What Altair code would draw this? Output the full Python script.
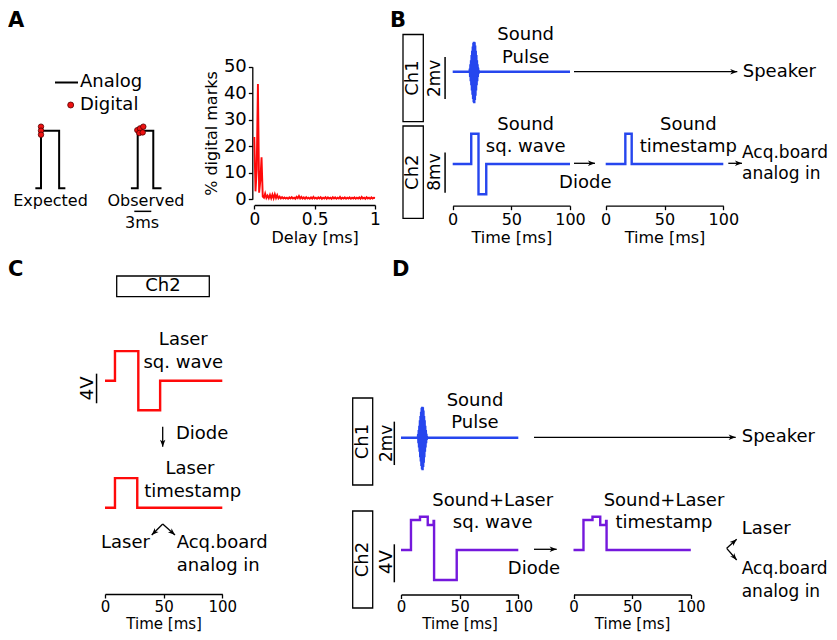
import math
import altair as alt
import pandas as pd

W, H = 821, 624          # drawing area (page minus 8px margin)
M = 8
FONT = "DejaVu Sans"
BLUE = "#2646ee"
RED = "#ff0a0a"
PURPLE = "#7418dc"

# ------------------------------------------------------------------ data
# A: histogram of delays between analog and digital marks (% of marks)
hist_pct = [
    23.5, 3.0, 11.0, 43.5, 2.5, 7.0, 15.8, 1.0, 0.6, 2.2,
    0.5, 1.4, 0.4, 1.7, 0.4, 1.8, 0.4, 1.9, 0.5, 1.6,
    0.4, 1.0, 0.3, 0.8, 0.3, 0.7, 0.3, 0.6, 0.2, 0.7,
    0.3, 0.8, 0.3, 0.6, 0.2, 0.9, 0.4, 1.2, 0.3, 0.9,
    0.3, 0.7, 0.2, 0.8, 0.3, 0.6, 0.2, 0.7, 0.3, 0.9,
    0.3, 0.6, 0.2, 0.7, 0.3, 0.8, 0.2, 0.6, 0.3, 0.8,
    0.2, 0.7, 0.3, 0.6, 0.2, 0.8, 0.3, 0.7, 0.2, 0.6,
    0.3, 0.9, 0.2, 0.6, 0.3, 0.7, 0.2, 0.6, 0.3, 0.7,
    0.2, 0.6, 0.3, 0.7, 0.2, 0.6, 0.3, 0.7, 0.2, 0.9,
    0.3, 0.6, 0.2, 0.8, 0.3, 0.6, 0.2, 0.7, 0.3, 0.6,
    0.5,
]
hist_delay = [round(0.01 * i, 2) for i in range(len(hist_pct))]
hist_y_ticks = [0, 10, 20, 30, 40, 50]
hist_x_ticks = [0, 0.5, 1]

# A: schematic pulses (time in ms, normalised level)
exp_t = [-1.0, 0.0, 0.0, 3.2, 3.2, 4.3]
exp_v = [0, 0, 1, 1, 0, 0]
obs_t = [-1.2, 0.0, 0.0, 2.75, 2.75, 4.2]
obs_v = [0, 0, 1, 1, 0, 0]
exp_dig_t = [0.0, 0.0, 0.0]
exp_dig_v = [1.07, 1.0, 0.93]
obs_dig_t = [-0.07, 0.41, 0.99, 0.28, 0.88]
obs_dig_v = [1.01, 1.04, 1.07, 0.96, 0.97]
scalebar_ms = 3

# Sound pulse burst (mV), sampled every 0.25 ms from 14.4 ms
burst_v = [0, 0.15, -0.25, 0.35, -0.45, 0.55, -0.65, 0.8, -0.9, 1.0, -1.1,
           1.2, -1.3, 1.38, -1.45, 1.43, -1.5, 1.4, -1.35, 1.25, -1.15, 1.0,
           -0.9, 0.8, -0.65, 0.55, -0.45, 0.35, -0.25, 0.18, -0.1, 0.05, 0]
burst_t = [round(14.4 + 0.25 * i, 2) for i in range(len(burst_v))]
pulse_t = [0] + burst_t + [100]
pulse_v = [0] + burst_v + [0]

# B: sound square wave and sound timestamp (mV)
b_sq_t = [0, 15.8, 15.8, 22.0, 22.0, 28.6, 28.6, 100]
b_sq_v = [0, 0, 6, 6, -6, -6, 0, 0]
b_ts_t = [0, 16.7, 16.7, 22.1, 22.1, 100]
b_ts_v = [0, 0, 6, 6, 0, 0]

# C: laser square wave and laser timestamp (V)
c_sq_t = [0, 8.5, 8.5, 28.4, 28.4, 47.0, 47.0, 100]
c_sq_v = [0, 0, 4, 4, -4, -4, 0, 0]
c_ts_t = [0, 8.5, 8.5, 27.5, 27.5, 100]
c_ts_v = [0, 0, 4, 4, 0, 0]

# D: sound+laser square wave and timestamp (V)
d_sq_t = [0, 8.5, 8.5, 16.2, 16.2, 22.8, 22.8, 27.8, 27.8, 28.2, 28.2, 47.5, 47.5, 100]
d_sq_v = [0, 0, 3.16, 3.16, 3.5, 3.5, 2.63, 2.63, 3.05, 3.05, -3.16, -3.16, 0, 0]
d_ts_t = [0, 8.5, 8.5, 16.2, 16.2, 22.8, 22.8, 27.8, 27.8, 28.2, 28.2, 100]
d_ts_v = [0, 0, 3.16, 3.16, 3.5, 3.5, 2.63, 2.63, 3.05, 3.05, 0, 0]

time_ticks = [0, 50, 100]

# ------------------------------------------------------------------ layout
def P(p):
    return p - M


def sc(d0, d1, p0, p1):
    return alt.Scale(domain=[d0, d1], range=[P(p0), P(p1)], nice=False, zero=False)


# frame: (x data0, x data1, x page0, x page1), (y data0, y data1, y page0, y page1)
FR = {
    "AE": ((0, 3, 41, 58), (0, 1, 188.3, 130.7)),
    "AO": ((0, 3, 137.7, 154.7), (0, 1, 188.3, 130.7)),
    "AH": ((0, 1, 254.3, 375), (0, 50, 199.3, 66.7)),
    "B1": ((0, 100, 452.7, 570), (0, 1, 71.7, 50.7)),
    "B2": ((0, 100, 452.7, 570), (0, 1, 164, 158.95)),
    "B3": ((0, 100, 605.7, 723.3), (0, 1, 164, 158.95)),
    "C1": ((0, 100, 105, 222.3), (0, 1, 380.7, 373.3)),
    "C2": ((0, 100, 105, 222.3), (0, 1, 507.7, 500.3)),
    "D1": ((0, 100, 401, 518.3), (0, 1, 437.7, 416.0)),
    "D2": ((0, 100, 401, 518.3), (0, 1, 550, 540.5)),
    "D3": ((0, 100, 573.5, 690.8), (0, 1, 550, 540.5)),
    "CV": ((M, M + W, M, M + W), (M, M + H, M, M + H)),
}


def scales(name):
    xf, yf = FR[name]
    return sc(*xf), sc(*yf)


AX = dict(grid=False, tickSize=4, tickWidth=1.3, domainWidth=1.3, domainColor="black",
          tickColor="black", labelColor="black", titleColor="black", labelFont=FONT,
          titleFont=FONT, labelFontSize=16, titleFontSize=16, titleFontWeight="normal",
          labelFlush=False, labelOverlap=False, labelBound=False, labelPadding=2,
          titlePadding=2)


def bottom_axis(page_y, values, title, fmt="d", **kw):
    opts = {**AX, **kw}
    return alt.Axis(orient="bottom", offset=P(page_y) - H, values=values, title=title,
                    format=fmt, **opts)


def line_layer(t, v, frame, color, width, xaxis=None, yaxis=None):
    df = pd.DataFrame({"t": t, "v": v, "i": list(range(len(t)))})
    xs, ys = scales(frame)
    return alt.Chart(df).mark_line(color=color, strokeWidth=width, strokeJoin="miter",
                                   clip=False).encode(
        x=alt.X("t:Q", scale=xs, axis=xaxis),
        y=alt.Y("v:Q", scale=ys, axis=yaxis),
        order="i:Q",
    )


def vbar(frame, t, v0, length):
    df = pd.DataFrame({"t": [t], "a": [v0], "b": [v0 + length]})
    xs, ys = scales(frame)
    return alt.Chart(df).mark_rule(color="black", strokeWidth=1.5).encode(
        x=alt.X("t:Q", scale=xs, axis=None),
        y=alt.Y("a:Q", scale=ys, axis=None), y2="b:Q")


def hbar(frame, t0, length, v):
    df = pd.DataFrame({"a": [t0], "b": [t0 + length], "v": [v]})
    xs, ys = scales(frame)
    return alt.Chart(df).mark_rule(color="black", strokeWidth=1.5).encode(
        x=alt.X("a:Q", scale=xs, axis=None), x2="b:Q",
        y=alt.Y("v:Q", scale=ys, axis=None))


def dots(frame, t, v):
    df = pd.DataFrame({"t": t, "v": v})
    xs, ys = scales(frame)
    return alt.Chart(df).mark_point(filled=True, color="#ee1111", size=30, opacity=1,
                                    stroke="#550000", strokeWidth=0.8).encode(
        x=alt.X("t:Q", scale=xs, axis=None), y=alt.Y("v:Q", scale=ys, axis=None))


CX, CY = scales("CV")

# annotations: text, x, y, align, size, angle, weight
ANN = [
    ("A", 8, 21, "left", 21, 0, "bold"),
    ("B", 390, 21, "left", 21, 0, "bold"),
    ("C", 8, 270, "left", 21, 0, "bold"),
    ("D", 392, 270, "left", 21, 0, "bold"),
    ("Analog", 80, 82, "left", 18, 0, "normal"),
    ("Digital", 80, 105, "left", 18, 0, "normal"),
    ("Expected", 50.5, 201, "center", 16, 0, "normal"),
    ("Observed", 146, 201, "center", 16, 0, "normal"),
    ("3ms", 142, 223, "center", 16, 0, "normal"),
    # B
    ("Ch1", 413.2, 78.1, "center", 18, 270, "normal"),
    ("Ch2", 413.2, 172.2, "center", 18, 270, "normal"),
    ("2mv", 435, 78.3, "center", 17, 270, "normal"),
    ("8mv", 435, 172, "center", 17, 270, "normal"),
    ("Sound", 525.7, 35, "center", 18, 0, "normal"),
    ("Pulse", 525.7, 58.3, "center", 18, 0, "normal"),
    ("Speaker", 742.7, 71.7, "left", 18, 0, "normal"),
    ("Sound", 525.7, 125, "center", 18, 0, "normal"),
    ("sq. wave", 525.7, 146.7, "center", 18, 0, "normal"),
    ("Diode", 585.3, 182.7, "center", 18, 0, "normal"),
    ("Sound", 688.3, 125, "center", 18, 0, "normal"),
    ("timestamp", 688.3, 146.7, "center", 18, 0, "normal"),
    ("Acq.board", 742, 153.3, "left", 17, 0, "normal"),
    ("analog in", 742, 174.3, "left", 17, 0, "normal"),
    # C
    ("Ch2", 163, 286.3, "center", 18, 0, "normal"),
    ("Laser", 183.3, 340, "center", 18, 0, "normal"),
    ("sq. wave", 183.3, 362.7, "center", 18, 0, "normal"),
    ("4V", 87.7, 388.3, "center", 18, 270, "normal"),
    ("Diode", 176, 434.3, "left", 18, 0, "normal"),
    ("Laser", 190, 469, "center", 18, 0, "normal"),
    ("timestamp", 192.7, 491.7, "center", 18, 0, "normal"),
    ("Laser", 125.5, 543.3, "center", 18, 0, "normal"),
    ("Acq.board", 176.7, 543.3, "left", 18, 0, "normal"),
    ("analog in", 176.7, 566, "left", 18, 0, "normal"),
    # D
    ("Ch1", 362.7, 441.5, "center", 18, 270, "normal"),
    ("Ch2", 362.7, 559.5, "center", 18, 270, "normal"),
    ("2mv", 386.7, 443.3, "center", 17, 270, "normal"),
    ("4V", 386.7, 562, "center", 18, 270, "normal"),
    ("Sound", 475, 400.7, "center", 18, 0, "normal"),
    ("Pulse", 475, 423.3, "center", 18, 0, "normal"),
    ("Speaker", 741.7, 437.3, "left", 18, 0, "normal"),
    ("Sound+Laser", 492.7, 500.7, "center", 18, 0, "normal"),
    ("sq. wave", 492.7, 523.3, "center", 18, 0, "normal"),
    ("Diode", 534, 569, "center", 18, 0, "normal"),
    ("Sound+Laser", 664, 500.7, "center", 18, 0, "normal"),
    ("timestamp", 664, 523.3, "center", 18, 0, "normal"),
    ("Laser", 741.7, 529.3, "left", 18, 0, "normal"),
    ("Acq.board", 741.7, 569.3, "left", 17, 0, "normal"),
    ("analog in", 741.7, 591.7, "left", 17, 0, "normal"),
]

BOXES = [  # x0, x1, y0, y1
    (403, 423.3, 34.5, 121.7),
    (403, 423.3, 126, 218.3),
    (116.7, 209.3, 276, 296.7),
    (352.7, 372.7, 398, 485),
    (352.7, 372.7, 511, 608),
]

ARROWS = [  # (x0, y0) -> (x1, y1) tip
    (574, 71.7, 737.3, 71.7),
    (574, 163.3, 595, 163.3),
    (728.3, 163.3, 742, 163.3),
    (162.7, 426.7, 162.7, 446.7),
    (162.7, 524, 151.7, 535),
    (162.7, 524, 175, 535),
    (534, 437.3, 735.7, 437.3),
    (534, 549.3, 556.7, 549.3),
    (726.7, 548.3, 736.7, 539.3),
    (726.7, 548.3, 736.7, 560),
]

LEGEND_LINE = (55, 78, 82.5)
LEGEND_DOT = (70.7, 105)

# ------------------------------------------------------------------ layers
layers = []

# A
layers.append(line_layer(exp_t, exp_v, "AE", "black", 2))
layers.append(line_layer(obs_t, obs_v, "AO", "black", 2))
layers.append(dots("AE", exp_dig_t, exp_dig_v))
layers.append(dots("AO", obs_dig_t, obs_dig_v))
layers.append(hbar("AO", -0.6, scalebar_ms, -0.4))
layers.append(line_layer(
    hist_delay, hist_pct, "AH", RED, 1.9,
    xaxis=bottom_axis(205, hist_x_ticks, "Delay [ms]", "~g", labelFontSize=17),
    yaxis=alt.Axis(orient="left", offset=-P(252.3), values=hist_y_ticks,
                   title="% digital marks", format="d",
                   **{**AX, "titlePadding": 4, "labelFontSize": 18})))

# B
layers.append(line_layer(pulse_t, pulse_v, "B1", BLUE, 2.4))
layers.append(line_layer(b_sq_t, b_sq_v, "B2", BLUE, 2.4,
                         xaxis=bottom_axis(205.7, time_ticks, "Time [ms]")))
layers.append(line_layer(b_ts_t, b_ts_v, "B3", BLUE, 2.4,
                         xaxis=bottom_axis(205.7, time_ticks, "Time [ms]")))
layers.append(vbar("B1", -6.5, -1.3, 2))
layers.append(vbar("B2", -6.5, -5.7, 8))

# C
low = dict(titlePadding=2, labelPadding=1, labelFontSize=15, titleFontSize=15)
layers.append(line_layer(c_sq_t, c_sq_v, "C1", RED, 2.4))
layers.append(line_layer(c_ts_t, c_ts_v, "C2", RED, 2.4,
                         xaxis=bottom_axis(594, time_ticks, "Time [ms]", **low)))
layers.append(vbar("C1", -7.2, -3.05, 4))

# D
layers.append(line_layer(pulse_t, pulse_v, "D1", BLUE, 2.4))
layers.append(line_layer(d_sq_t, d_sq_v, "D2", PURPLE, 2.4,
                         xaxis=bottom_axis(594.5, time_ticks, "Time [ms]", **low)))
layers.append(line_layer(d_ts_t, d_ts_v, "D3", PURPLE, 2.4,
                         xaxis=bottom_axis(594.5, time_ticks, "Time [ms]", **low)))
layers.append(vbar("D1", -5.7, -1.26, 2))
layers.append(vbar("D2", -5.7, -3.4, 4))

# boxes
bdf = pd.DataFrame(BOXES, columns=["x0", "x1", "y0", "y1"])
layers.append(alt.Chart(bdf).mark_rect(fill="white", fillOpacity=0, stroke="black",
                                       strokeWidth=1.3).encode(
    x=alt.X("x0:Q", scale=CX, axis=None), x2="x1:Q",
    y=alt.Y("y0:Q", scale=CY, axis=None), y2="y1:Q"))

# legend line + dot
ldf = pd.DataFrame({"x0": [LEGEND_LINE[0]], "x1": [LEGEND_LINE[1]], "y": [LEGEND_LINE[2]]})
layers.append(alt.Chart(ldf).mark_rule(color="black", strokeWidth=2).encode(
    x=alt.X("x0:Q", scale=CX, axis=None), x2="x1:Q", y=alt.Y("y:Q", scale=CY, axis=None)))
ddf = pd.DataFrame({"x": [LEGEND_DOT[0]], "y": [LEGEND_DOT[1]]})
layers.append(alt.Chart(ddf).mark_point(filled=True, color="#ee1111", size=36, opacity=1,
                                        stroke="#550000", strokeWidth=0.8).encode(
    x=alt.X("x:Q", scale=CX, axis=None), y=alt.Y("y:Q", scale=CY, axis=None)))

# arrows
adf = pd.DataFrame(ARROWS, columns=["x0", "y0", "x1", "y1"])
adf["ang"] = [(math.degrees(math.atan2(r.y1 - r.y0, r.x1 - r.x0)) + 360) % 360
              for r in adf.itertuples()]
layers.append(alt.Chart(adf).mark_rule(color="black", strokeWidth=1.3).encode(
    x=alt.X("x0:Q", scale=CX, axis=None), x2="x1:Q",
    y=alt.Y("y0:Q", scale=CY, axis=None), y2="y1:Q"))
layers.append(alt.Chart(adf).mark_point(
    shape="M0,0L-1,-0.38L-0.72,0L-1,0.38Z", filled=True, color="black", size=200,
    opacity=1).encode(
    x=alt.X("x1:Q", scale=CX, axis=None), y=alt.Y("y1:Q", scale=CY, axis=None),
    angle=alt.Angle("ang:Q", scale=None)))

# text
tdf = pd.DataFrame(ANN, columns=["label", "x", "y", "align", "size", "angle", "weight"])
for (align, weight), g in tdf.groupby(["align", "weight"]):
    layers.append(alt.Chart(g).mark_text(font=FONT, align=align, baseline="middle",
                                         fontWeight=weight, color="black").encode(
        x=alt.X("x:Q", scale=CX, axis=None), y=alt.Y("y:Q", scale=CY, axis=None),
        text="label:N", size=alt.Size("size:Q", scale=None),
        angle=alt.Angle("angle:Q", scale=None)))

chart = alt.layer(*layers).resolve_scale(x="independent", y="independent").properties(
    width=W, height=H, padding=0, autosize=alt.AutoSizeParams(type="none"),
    background="white",
).configure_view(stroke=None)

chart.save("out.html", embed_options={"renderer": "svg", "actions": False})
